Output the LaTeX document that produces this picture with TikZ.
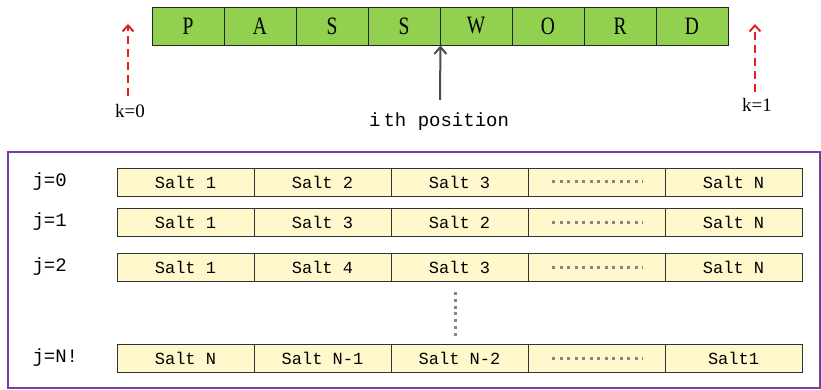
\documentclass[tikz,border=0pt]{standalone}
\usepackage{fontspec}
\setmainfont{Liberation Serif}
\setmonofont{Liberation Mono}
\newfontfamily\condserif[FakeStretch=0.78]{Liberation Serif}
\usetikzlibrary{arrows.meta}
\definecolor{pwgreen}{HTML}{92D050}
\definecolor{saltfill}{HTML}{FFF8CC}
\definecolor{framepurple}{HTML}{7A3DA8}
\definecolor{arrowred}{HTML}{E8201A}
\definecolor{dotgray}{HTML}{858585}
\tikzset{
  pwcell/.style={draw=black!85, fill=pwgreen, line width=0.9pt, minimum width=72pt, minimum height=38pt, inner sep=0pt, font=\condserif\fontsize{25}{25}\selectfont},
  saltcell/.style={draw=black!80, fill=saltfill, line width=0.9pt, minimum width=137pt, minimum height=28pt, inner sep=0pt, font=\ttfamily\fontsize{17}{17}\selectfont},
  rowlabel/.style={anchor=west, font=\ttfamily\fontsize{19}{19}\selectfont},
  klabel/.style={font=\fontsize{19}{19}\selectfont},
  redarrow/.style={draw=arrowred, line width=2pt, dash pattern=on 8pt off 5pt, -{Straight Barb[length=6pt,width=11pt,line width=2pt]}},
  grayarrow/.style={draw=black!70, line width=2pt, -{Straight Barb[length=7pt,width=12pt,line width=2pt]}},
  hdots/.style={draw=dotgray, line width=3pt, dash pattern=on 3pt off 4.5pt},
  vdots/.style={draw=dotgray, line width=3pt, dash pattern=on 3pt off 3.8pt}
}
\begin{document}
\begin{tikzpicture}[x=1pt,y=-1pt]
\useasboundingbox (0,0) rectangle (821,390);

% password characters
\foreach \ch [count=\i] in {P,A,S,S,W,O,R,D}
  \node[pwcell] (c\i) at (152+72*\i-36,26) {\ch};

% position markers
\coordinate (k0b) at (128,96);
\coordinate (k0t) at (128,24);
\coordinate (k1b) at (755,92);
\coordinate (k1t) at (755,24);
\draw[redarrow] (k0b) -- (k0t);
\draw[redarrow] (k1b) -- (k1t);
\node[klabel] (k0) at (130,111) {k=0};
\node[klabel] (k1) at (757,105) {k=1};

\node[font=\ttfamily\fontsize{19}{19}\selectfont] (ith) at (439,122) {i\,th position};
\coordinate (ib) at (440,100);
\draw[grayarrow] (ib) -- (c4.south east);

% frame of salt orderings
\node[draw=framepurple, line width=1.8pt, minimum width=812pt, minimum height=236pt, inner sep=0pt] (frame) at (414,270) {};

% rows of salts
\foreach \r/\y/\lab/\a/\b/\c/\e in {
  0/182/{j=0}/{Salt 1}/{Salt 2}/{Salt 3}/{Salt N},
  1/222/{j=1}/{Salt 1}/{Salt 3}/{Salt 2}/{Salt N},
  2/267/{j=2}/{Salt 1}/{Salt 4}/{Salt 3}/{Salt N},
  3/358/{j=N!}/{Salt N}/{Salt N-1}/{Salt N-2}/{Salt1}}{
  \node[rowlabel] (lab\r) at (29,\y) {\lab};
  \node[saltcell] (s\r a) at (185.5,\y) {\a};
  \node[saltcell] (s\r b) at (322.5,\y) {\b};
  \node[saltcell] (s\r c) at (459.5,\y) {\c};
  \node[saltcell] (s\r d) at (596.5,\y) {};
  \node[saltcell] (s\r e) at (733.5,\y) {\e};
  \draw[hdots] ([xshift=-44.5pt]s\r d.center) -- ([xshift=46pt]s\r d.center);
}

% vertical ellipsis between rows
\coordinate (vt) at (455,292);
\coordinate (vb) at (455,336);
\draw[vdots] (vt) -- (vb);
\end{tikzpicture}
\end{document}
